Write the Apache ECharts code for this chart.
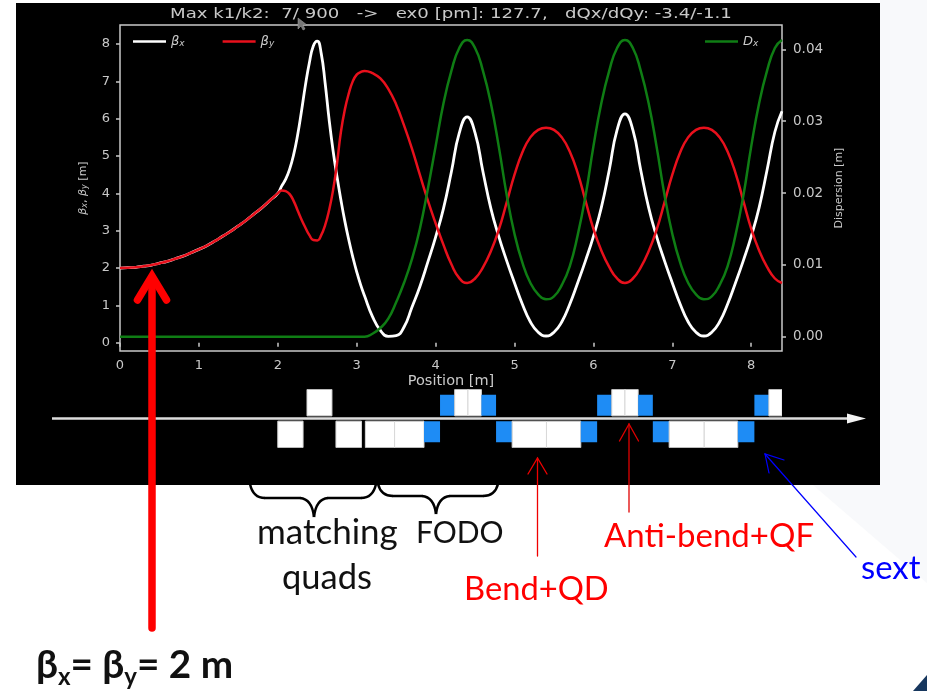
<!DOCTYPE html>
<html><head><meta charset="utf-8">
<style>html,body{margin:0;padding:0;background:#fff}#c{width:927px;height:691px}</style>
<script src="https://cdn.jsdelivr.net/npm/echarts@6/dist/echarts.min.js"></script>
</head><body><div id="c"></div>
<script>
const titleText = "Max k1/k2:  7/ 900   ->   ex0 [pm]: 127.7,   dQx/dQy: -3.4/-1.1";
const xTicks = [0,1,2,3,4,5,6,7,8];
const leftTicks = [0,1,2,3,4,5,6,7,8];
const rightTicks = [0,0.01,0.02,0.03,0.04];
const position = [0,0.1,0.2,0.3,0.4,0.5,0.6,0.7,0.8,0.9,1,1.1,1.2,1.3,1.4,1.5,1.6,1.7,1.8,1.9,2,
 2.05,2.1,2.15,2.2,2.25,2.3,2.35,2.4,2.45,2.5,2.55,2.6,2.65,2.7,2.75,2.8,2.85,2.9,2.95,3,3.05,3.1,
 3.2,3.3,3.4,3.5,3.6,3.7,3.8,3.9,4,4.1,4.2,4.3,4.4,4.5,4.6,4.7,4.8,4.9,5,5.1,5.2,5.3,5.4,5.5,5.6,5.7,5.8,5.9,6,6.1,6.2,6.3,6.4,6.5,6.6,6.7,6.8,6.9,7,7.1,7.2,7.3,7.4,7.5,7.6,7.7,7.8,7.9,8,8.1,8.2,8.3,8.39];
const betaX = [2,2.01,2.02,2.05,2.08,2.13,2.18,2.25,2.32,2.41,2.5,2.6,2.72,2.85,2.98,3.13,3.28,3.45,3.62,3.81,4,
 4.2,4.38,4.65,5.03,5.55,6.2,6.9,7.5,7.95,8.08,7.75,6.95,5.98,5.15,4.45,3.82,3.25,2.75,2.3,1.9,1.55,1.25,
 0.7,0.33,0.17,0.19,0.42,0.95,1.5,2.15,2.83,3.6,4.58,5.62,6.05,5.62,4.58,3.6,2.85,2.2,1.6,1.03,0.56,0.28,0.18,0.28,0.56,1.03,1.6,2.2,2.85,3.62,4.62,5.7,6.13,5.7,4.62,3.62,2.85,2.2,1.6,1.03,0.56,0.28,0.18,0.28,0.56,1.03,1.6,2.2,2.85,3.62,4.62,5.65,6.2];
const betaY = [2,2.01,2.02,2.05,2.08,2.13,2.18,2.25,2.32,2.41,2.5,2.6,2.72,2.85,2.98,3.13,3.28,3.45,3.62,3.81,4,
 4.08,4.06,3.98,3.8,3.55,3.3,3.08,2.88,2.75,2.74,2.88,3.15,3.55,4.08,4.8,5.65,6.25,6.68,7,7.18,7.25,7.28,
 7.22,7.08,6.8,6.38,5.82,5.2,4.5,3.82,3.2,2.62,2.1,1.73,1.6,1.72,2.02,2.45,3.02,3.75,4.5,5.1,5.5,5.7,5.76,5.7,5.5,5.12,4.55,3.8,3.05,2.47,2.03,1.72,1.6,1.72,2.02,2.45,3.02,3.75,4.5,5.1,5.5,5.7,5.76,5.7,5.5,5.12,4.55,3.8,3.05,2.47,2.03,1.72,1.6];
const dispersion = [0,0,0,0,0,0,0,0,0,0,0,0,0,0,0,0,0,0,0,0,0,
 0,0,0,0,0,0,0,0,0,0,0,0,0,0,0,0,0,0,0,0,0,0,
 0.0004,0.0012,0.0025,0.0048,0.0075,0.0108,0.015,0.0205,0.0265,0.0325,0.037,0.0402,0.0413,0.0402,0.037,0.0325,0.0265,0.0198,0.0143,0.0103,0.0075,0.0059,0.0052,0.0056,0.0072,0.0098,0.0141,0.0196,0.0265,0.0325,0.037,0.0402,0.0413,0.0402,0.037,0.0325,0.0265,0.0198,0.0143,0.0103,0.0075,0.0059,0.0052,0.0056,0.0072,0.0098,0.0141,0.0196,0.0265,0.0325,0.037,0.0402,0.0413];
// lattice elements: [start, end, side (+1 above beam / -1 below), kind]
const lattice = [
 [2.00,2.32,-1,'quad'],[2.37,2.686,1,'quad'],[2.737,3.06,-1,'quad'],
 [3.11,3.48,-1,'quad'],[3.48,3.853,-1,'quad'],[3.853,4.056,-1,'sext'],
 [4.056,4.242,1,'sext'],[4.242,4.41,1,'quad'],[4.41,4.58,1,'quad'],[4.58,4.766,1,'sext'],
 [4.766,4.97,-1,'sext'],[4.97,5.405,-1,'quad'],[5.405,5.84,-1,'quad'],[5.84,6.047,-1,'sext'],
 [6.047,6.233,1,'sext'],[6.233,6.4,1,'quad'],[6.4,6.567,1,'quad'],[6.567,6.753,1,'sext'],
 [6.753,6.96,-1,'sext'],[6.96,7.404,-1,'quad'],[7.404,7.83,-1,'quad'],[7.83,8.04,-1,'sext'],
 [8.04,8.224,1,'sext'],[8.224,8.39,1,'quad']
];
const zip = (xs, ys) => xs.map((x, i) => [x, ys[i]]);
const axisCol = '#c9c9c9', textCol = '#c9c9c9';
const plotFont = '"DejaVu Sans"', noteFont = 'Lato';
const S = {left:120, width:662};
const XMAX = 8.39;
const richName = {
 i:{fontStyle:'italic',fontSize:11,color:textCol,fontFamily:plotFont},
 s:{fontStyle:'italic',fontSize:8,color:textCol,fontFamily:plotFont,verticalAlign:'bottom',padding:[4,0,0,0]},
 t:{fontSize:11,color:textCol,fontFamily:plotFont}
};
const legendRich = {
 i:{fontStyle:'italic',fontSize:13,color:textCol,fontFamily:plotFont},
 s:{fontStyle:'italic',fontSize:9,color:textCol,fontFamily:plotFont,verticalAlign:'bottom',padding:[4,0,0,0]}
};
const legendFmt = n => n==='βx' ? '{i|β}{s|x}' : n==='βy' ? '{i|β}{s|y}' : '{i|D}{s|x}';
const baseLegend = {orient:'horizontal',padding:0,itemWidth:33,itemHeight:14,top:35,icon:'path://M0,0H33V2.5H0Z',
  formatter:legendFmt,textStyle:{rich:legendRich,color:textCol},selectedMode:false};
const noteText = (x,y,text,color,size) => ({type:'text',z:100,x,y,style:{text,fill:color,font:size+'px '+noteFont,textVerticalAlign:'middle'}});
const seg = (pts,color,w) => ({type:'polyline',z:100,shape:{points:pts},style:{stroke:color,lineWidth:w,fill:null,lineCap:'round',lineJoin:'miter'}});
const curve = (x1,y1,cx,cy,x2,y2) => ({type:'bezierCurve',z:100,shape:{x1,y1,x2,y2,cpx1:cx,cpy1:cy},style:{stroke:'#000',lineWidth:2.5,fill:null}});
const brace = (x0,x1,xm,y,tip) => [
  curve(x0,484,x0+3,y,x0+15,y),
  seg([[x0+15,y],[xm-14,y]],'#000',2.5),
  curve(xm-14,y,xm-2,y+1,xm,tip),
  curve(xm,tip,xm+2,y+1,xm+14,y),
  seg([[xm+14,y],[x1-15,y]],'#000',2.5),
  curve(x1-15,y,x1-3,y,x1,484)
];
const chart = echarts.init(document.getElementById('c'),null,{renderer:'canvas',width:927,height:691});
chart.setOption({
 animation:false,
 backgroundColor:'#ffffff',
 legend:[
  Object.assign({},baseLegend,{left:133,itemGap:38,data:['βx','βy']}),
  Object.assign({},baseLegend,{left:705,data:['Dx']})
 ],
 grid:[
  {left:S.left,width:S.width,top:25,height:326,show:true,borderColor:axisCol,borderWidth:1.5,backgroundColor:'transparent'},
  {left:S.left,width:S.width,top:389.3,height:58.4,show:false}
 ],
 xAxis:[
  {type:'value',gridIndex:0,min:0,max:XMAX,name:'Position [m]',nameLocation:'middle',nameGap:23,
   nameTextStyle:{color:textCol,fontFamily:plotFont,fontSize:14.5},
   axisLine:{show:false},splitLine:{show:false},
   axisTick:{show:true,length:4,customValues:xTicks,lineStyle:{color:axisCol,width:1.5}},
   axisLabel:{color:textCol,fontFamily:plotFont,fontSize:13,margin:8,customValues:xTicks}},
  {type:'value',gridIndex:1,min:0,max:XMAX,show:false}
 ],
 yAxis:[
  {type:'value',gridIndex:0,min:-0.222,max:8.51,name:'{i|β}{s|x}{t|, }{i|β}{s|y}{t| [m]}',nameLocation:'middle',nameGap:31,nameRotate:90,
   nameTextStyle:{rich:richName},axisLine:{show:false},splitLine:{show:false},
   axisTick:{show:true,length:4,customValues:leftTicks,lineStyle:{color:axisCol,width:1.5}},
   axisLabel:{color:textCol,fontFamily:plotFont,fontSize:13,margin:10,customValues:leftTicks}},
  {type:'value',gridIndex:0,position:'right',min:-0.002,max:0.0434,name:'Dispersion [m]',nameLocation:'middle',nameGap:50,nameRotate:90,
   nameTextStyle:{color:textCol,fontFamily:plotFont,fontSize:11},axisLine:{show:false},splitLine:{show:false},
   axisTick:{show:true,length:4,customValues:rightTicks,lineStyle:{color:axisCol,width:1.5}},
   axisLabel:{color:textCol,fontFamily:plotFont,fontSize:13.5,margin:11,customValues:rightTicks,formatter:v=>v.toFixed(2)}},
  {type:'value',gridIndex:1,min:-1,max:1,show:false}
 ],
 series:[
  {name:'βx',type:'line',xAxisIndex:0,yAxisIndex:0,data:zip(position,betaX),smooth:0.5,showSymbol:false,lineStyle:{color:'#ffffff',width:2.8},itemStyle:{color:'#ffffff'}},
  {name:'βy',type:'line',xAxisIndex:0,yAxisIndex:0,data:zip(position,betaY),smooth:0.5,showSymbol:false,lineStyle:{color:'#e8101c',width:2.5},itemStyle:{color:'#e8101c'}},
  {name:'Dx',type:'line',xAxisIndex:0,yAxisIndex:1,data:zip(position,dispersion),smooth:0.5,showSymbol:false,lineStyle:{color:'#0f7d14',width:2.5},itemStyle:{color:'#0f7d14'}},
  {name:'lattice',type:'custom',xAxisIndex:1,yAxisIndex:2,clip:true,data:lattice,encode:{x:[0,1]},
   renderItem:(p,api)=>{
     const a=api.value(0),b=api.value(1),side=api.value(2),kind=api.value(3);
     const h=kind==='quad'?1:0.81, g=0.09;
     const p0=api.coord([a,side*h]),p1=api.coord([b,side*g]);
     return {type:'rect',shape:{x:p0[0],y:Math.min(p0[1],p1[1]),width:p1[0]-p0[0],height:Math.abs(p1[1]-p0[1])},
       style:{fill:kind==='quad'?'#ffffff':'#1e8cf5',stroke:kind==='quad'?'#d8d8d8':'#1e8cf5',lineWidth:kind==='quad'?1:0}};
   }}
 ],
 graphic:[
  {type:'polygon',z:-20,shape:{points:[[880,0],[927,0],[927,583],[813,485],[880,485]]},style:{fill:'#f8f9fb'}},
  {type:'polygon',z:-20,shape:{points:[[913,691],[927,675],[927,691]]},style:{fill:'#17375e'}},
  {type:'rect',z:-10,shape:{x:16,y:3,width:864,height:482},style:{fill:'#000'}},
  {type:'text',z:90,x:170,y:14,scaleX:1.345,style:{text:titleText,fill:textCol,font:'13.5px '+plotFont,textVerticalAlign:'middle'}},
  {type:'polygon',z:100,shape:{points:[[298,18],[298,29],[301,26],[303,30],[305,29],[303,25],[307,25]]},style:{fill:'#777',stroke:'#aaa',lineWidth:0.5}},
  {type:'line',z:50,shape:{x1:52,y1:418.5,x2:850,y2:418.5},style:{stroke:'#dcdcdc',lineWidth:2.5}},
  {type:'polygon',z:50,shape:{points:[[847,413.5],[866,418.5],[847,423.5]]},style:{fill:'#f2f2f2'}},
  seg([[152,628],[152,278]],'#ff0000',7.5),
  seg([[137.5,300],[152,276],[166.5,300]],'#ff0000',7.5),
  seg([[537.5,556],[537.5,458]],'#f00000',1.3),
  seg([[528,474],[537.5,458],[547,474]],'#f00000',1.3),
  seg([[629,512],[629,424]],'#e00000',1.3),
  seg([[619.5,441],[629,424],[638.5,441]],'#e00000',1.3),
  seg([[856,557],[765,454]],'#0000ff',1.2),
  seg([[784,460],[765,454],[769,473]],'#0000ff',1.2),
  ...brace(250,376,314,498,517),
  ...brace(378,498,436,496,514),
  noteText(257,533,'matching','#111',35),
  noteText(416,533,'FODO','#111',30),
  noteText(282,578,'quads','#111',34.5),
  noteText(464,589,'Bend+QD','#ff0000',32.7),
  noteText(604,536,'Anti-bend+QF','#ff0000',33),
  noteText(861,568,'sext','#0000ff',32.8),
  {type:'text',z:100,x:36,y:666,style:{
    text:'{b|β}{s|x}{b|= β}{s|y}{b|= 2 m}',
    textVerticalAlign:'middle',
    rich:{b:{font:'bold 38.7px '+noteFont,fill:'#111',lineHeight:46},
          s:{font:'bold 24px '+noteFont,fill:'#111',verticalAlign:'bottom',lineHeight:28,padding:[8,0,0,0]}}}}
 ]
});
</script></body></html>
